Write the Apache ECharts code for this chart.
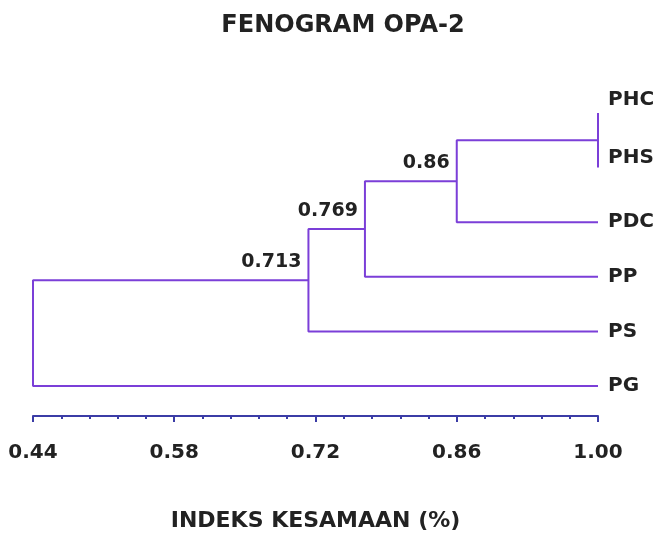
<!DOCTYPE html>
<html>
<head>
<meta charset="utf-8">
<title>Fenogram OPA-2</title>
<script src="https://cdn.jsdelivr.net/npm/echarts@6/dist/echarts.min.js"></script>
<style>
  html, body { margin: 0; padding: 0; background: #fff; }
  #chart { width: 662px; height: 537px; }
</style>
</head>
<body>
<div id="chart"></div>
<script>
// leaves, top to bottom
const leaves = ['PHC', 'PHS', 'PDC', 'PP', 'PS', 'PG'];
// merge steps: N1 is the first merge, N2 the second, ...
const mergeLeft = ['PHC', 'N1', 'N2', 'N3', 'N4'];
const mergeRight = ['PHS', 'PDC', 'PP', 'PS', 'PG'];
const mergeSimilarity = [1.0, 0.86, 0.769, 0.713, 0.44];
const majorTicks = [0.44, 0.58, 0.72, 0.86, 1.0];

const LINE = '#7b3fd8';
const AXIS = '#3b3ca6';
const TEXT = '#222';
const FONT = '"DejaVu Sans", "Liberation Sans", Arial, sans-serif';

// labels of the two leaves joined at 1.00 sit a bit higher than their branch ends
const leafLabelShift = { PHC: -13, PHS: -10 };

// five small ticks between each pair of major ticks
const minorTicks = [];
for (let i = 0; i < majorTicks.length - 1; i++) {
  const step = (majorTicks[i + 1] - majorTicks[i]) / 5;
  for (let k = 1; k < 5; k++) minorTicks.push(+(majorTicks[i] + k * step).toFixed(4));
}

// node positions: x = similarity, y = leaf index (node sits midway between children)
const pos = {};
leaves.forEach((name, i) => { pos[name] = { x: 1.0, y: i }; });

const series = [];
const nodeLabels = [];
mergeSimilarity.forEach((s, i) => {
  const a = pos[mergeLeft[i]];
  const b = pos[mergeRight[i]];
  const node = { x: s, y: (a.y + b.y) / 2 };
  pos['N' + (i + 1)] = node;
  series.push({
    type: 'line',
    data: [[a.x, a.y], [s, a.y], [s, b.y], [b.x, b.y]],
    symbol: 'none',
    silent: true,
    lineStyle: { color: LINE, width: 2 },
    animation: false
  });
  if (s < 1 && i < mergeSimilarity.length - 1) {
    nodeLabels.push({ value: [node.x, node.y], name: String(s) });
  }
});

series.push({
  type: 'scatter',
  symbolSize: 0,
  silent: true,
  animation: false,
  itemStyle: { opacity: 1 },
  data: nodeLabels,
  label: {
    show: true,
    position: 'left',
    distance: 7,
    offset: [0, -18],
    formatter: p => p.name,
    color: TEXT,
    fontFamily: FONT,
    fontWeight: 'bold',
    fontSize: 19
  }
});

series.push({
  type: 'scatter',
  symbolSize: 0,
  silent: true,
  animation: false,
  itemStyle: { opacity: 1 },
  data: leaves.map(name => ({
    value: [pos[name].x, pos[name].y],
    name: name,
    label: { offset: [0, leafLabelShift[name] || 0] }
  })),
  label: {
    show: true,
    position: 'right',
    distance: 10,
    formatter: p => p.name,
    color: TEXT,
    fontFamily: FONT,
    fontWeight: 'bold',
    fontSize: 20
  }
});

const gridBox = { left: 33, right: 64, top: 113, bottom: 151 };

const chart = echarts.init(document.getElementById('chart'));
chart.setOption({
  backgroundColor: '#fff',
  title: {
    text: 'FENOGRAM OPA-2',
    left: 343,
    top: 14,
    padding: 0,
    textAlign: 'center',
    textStyle: { color: TEXT, fontFamily: FONT, fontWeight: 'bold', fontSize: 24 }
  },
  // second grid is the same box, it only carries the small ticks
  grid: [Object.assign({}, gridBox), Object.assign({}, gridBox)],
  xAxis: [
    {
      gridIndex: 0,
      type: 'value',
      min: 0.44,
      max: 1.0,
      position: 'bottom',
      offset: 30,
      name: 'INDEKS KESAMAAN (%)',
      nameLocation: 'middle',
      nameGap: 94,
      nameTextStyle: { color: TEXT, fontFamily: FONT, fontWeight: 'bold', fontSize: 22 },
      axisLine: { show: true, onZero: false, lineStyle: { color: AXIS, width: 2 } },
      axisTick: { show: true, customValues: majorTicks, length: 6, lineStyle: { color: AXIS, width: 2 } },
      axisLabel: {
        customValues: majorTicks,
        formatter: v => v.toFixed(2),
        margin: 27,
        color: TEXT,
        fontFamily: FONT,
        fontWeight: 'bold',
        fontSize: 20
      },
      splitLine: { show: false }
    },
    {
      gridIndex: 1,
      type: 'value',
      min: 0.44,
      max: 1.0,
      position: 'bottom',
      offset: 30,
      axisLine: { show: false, onZero: false },
      axisTick: { show: true, customValues: minorTicks, length: 3, lineStyle: { color: AXIS, width: 2 } },
      axisLabel: { show: false },
      splitLine: { show: false }
    }
  ],
  yAxis: [
    { gridIndex: 0, type: 'value', min: 0, max: leaves.length - 1, inverse: true, show: false },
    { gridIndex: 1, type: 'value', min: 0, max: 1, show: false }
  ],
  series: series
});
</script>
</body>
</html>
